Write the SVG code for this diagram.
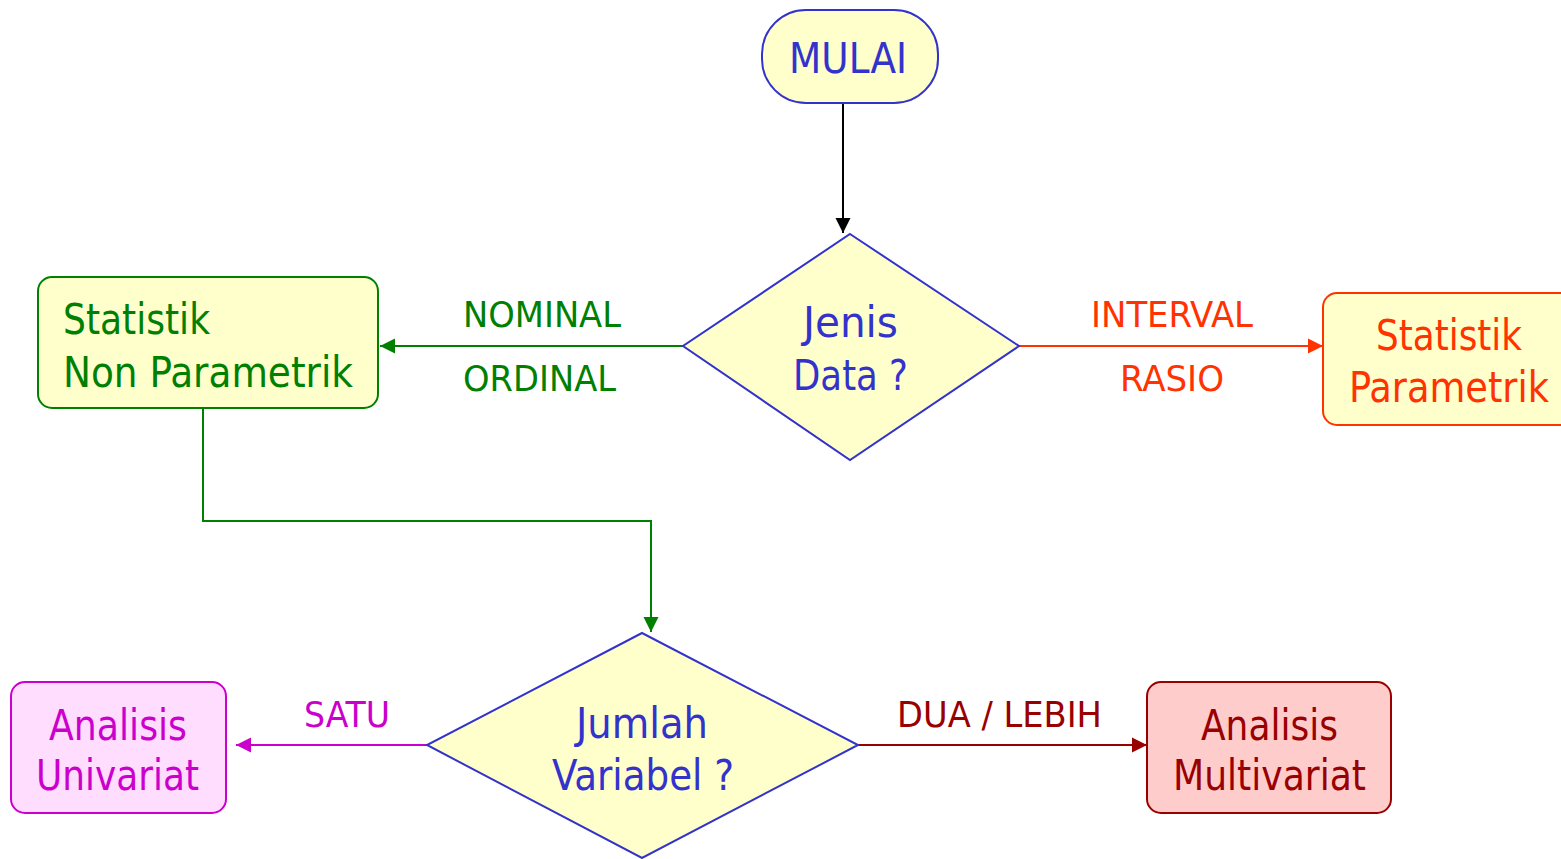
<svg xmlns="http://www.w3.org/2000/svg" width="1561" height="859" viewBox="0 0 1561 859">
<style>
text{font-family:"DejaVu Sans Condensed","DejaVu Sans","Liberation Sans",sans-serif}
.n{font-size:42px}
.l{font-size:35px}
.blue{fill:#3333CC}
.green{fill:#008000}
.orange{fill:#FF3300}
.mag{fill:#CC00CC}
.dred{fill:#990000}
.conn{fill:none;stroke-width:2}
</style>
<defs>
<marker id="ak" markerWidth="17" markerHeight="16" refX="15" refY="8" orient="auto" markerUnits="userSpaceOnUse"><path d="M0,0.5 L15,8 L0,15.5 Z" fill="#000"/></marker>
<marker id="ag" markerWidth="17" markerHeight="16" refX="15" refY="8" orient="auto" markerUnits="userSpaceOnUse"><path d="M0,0.5 L15,8 L0,15.5 Z" fill="#008000"/></marker>
<marker id="ao" markerWidth="17" markerHeight="16" refX="15" refY="8" orient="auto" markerUnits="userSpaceOnUse"><path d="M0,0.5 L15,8 L0,15.5 Z" fill="#FF3300"/></marker>
<marker id="am" markerWidth="17" markerHeight="16" refX="15" refY="8" orient="auto" markerUnits="userSpaceOnUse"><path d="M0,0.5 L15,8 L0,15.5 Z" fill="#CC00CC"/></marker>
<marker id="ar" markerWidth="17" markerHeight="16" refX="15" refY="8" orient="auto" markerUnits="userSpaceOnUse"><path d="M0,0.5 L15,8 L0,15.5 Z" fill="#990000"/></marker>
</defs>
<rect width="1561" height="859" fill="#fff"/>
<g id="connectors">
<path class="conn" d="M843,104 L843,233" stroke="#000" marker-end="url(#ak)"/>
<path class="conn" d="M683,346 L380,346" stroke="#008000" marker-end="url(#ag)"/>
<path class="conn" d="M1019,346 L1323,346" stroke="#FF3300" marker-end="url(#ao)"/>
<path class="conn" d="M203,409 L203,521 L651,521 L651,632" stroke="#008000" marker-end="url(#ag)"/>
<path class="conn" d="M427,745 L236,745" stroke="#CC00CC" marker-end="url(#am)"/>
<path class="conn" d="M858,745 L1147,745" stroke="#990000" marker-end="url(#ar)"/>
<text class="l green" x="463" y="327" textLength="158" lengthAdjust="spacingAndGlyphs">NOMINAL</text>
<text class="l green" x="463" y="391" textLength="153" lengthAdjust="spacingAndGlyphs">ORDINAL</text>
<text class="l orange" x="1091" y="327" textLength="162" lengthAdjust="spacingAndGlyphs">INTERVAL</text>
<text class="l orange" x="1120" y="391" textLength="104" lengthAdjust="spacingAndGlyphs">RASIO</text>
<text class="l mag" x="304" y="727" textLength="86" lengthAdjust="spacingAndGlyphs">SATU</text>
<text class="l dred" x="897" y="727" textLength="205" lengthAdjust="spacingAndGlyphs">DUA / LEBIH</text>
</g>
<g id="mulai">
<rect x="762" y="10" width="176" height="93" rx="44" ry="44" fill="#FFFFCC" stroke="#3333CC" stroke-width="2"/>
<text class="n blue" x="789" y="73" textLength="118" lengthAdjust="spacingAndGlyphs">MULAI</text>
</g>
<g id="jenis-data">
<polygon points="850,234 1019,346 850,460 683,346" fill="#FFFFCC" stroke="#3333CC" stroke-width="2"/>
<text class="n blue" x="803" y="337" textLength="95" lengthAdjust="spacingAndGlyphs">Jenis</text>
<text class="n blue" x="793" y="390" textLength="115" lengthAdjust="spacingAndGlyphs">Data ?</text>
</g>
<g id="non-parametrik">
<rect x="38" y="277" width="340" height="131" rx="14" fill="#FFFFCC" stroke="#008000" stroke-width="2"/>
<text class="n green" x="63" y="334" textLength="147" lengthAdjust="spacingAndGlyphs">Statistik</text>
<text class="n green" x="63" y="387" textLength="290" lengthAdjust="spacingAndGlyphs">Non Parametrik</text>
</g>
<g id="parametrik">
<rect x="1323" y="293" width="260" height="132" rx="14" fill="#FFFFCC" stroke="#FF3300" stroke-width="2"/>
<text class="n orange" x="1376" y="350" textLength="146" lengthAdjust="spacingAndGlyphs">Statistik</text>
<text class="n orange" x="1349" y="402" textLength="200" lengthAdjust="spacingAndGlyphs">Parametrik</text>
</g>
<g id="jumlah-variabel">
<polygon points="642,633 858,745 642,858 427,745" fill="#FFFFCC" stroke="#3333CC" stroke-width="2"/>
<text class="n blue" x="576" y="738" textLength="132" lengthAdjust="spacingAndGlyphs">Jumlah</text>
<text class="n blue" x="552" y="790" textLength="182" lengthAdjust="spacingAndGlyphs">Variabel ?</text>
</g>
<g id="univariat">
<rect x="11" y="682" width="215" height="131" rx="14" fill="#FFDDFF" stroke="#CC00CC" stroke-width="2"/>
<text class="n mag" x="49" y="740" textLength="138" lengthAdjust="spacingAndGlyphs">Analisis</text>
<text class="n mag" x="36" y="790" textLength="163" lengthAdjust="spacingAndGlyphs">Univariat</text>
</g>
<g id="multivariat">
<rect x="1147" y="682" width="244" height="131" rx="14" fill="#FFCCCC" stroke="#990000" stroke-width="2"/>
<text class="n dred" x="1201" y="740" textLength="137" lengthAdjust="spacingAndGlyphs">Analisis</text>
<text class="n dred" x="1173" y="790" textLength="193" lengthAdjust="spacingAndGlyphs">Multivariat</text>
</g>
</svg>
